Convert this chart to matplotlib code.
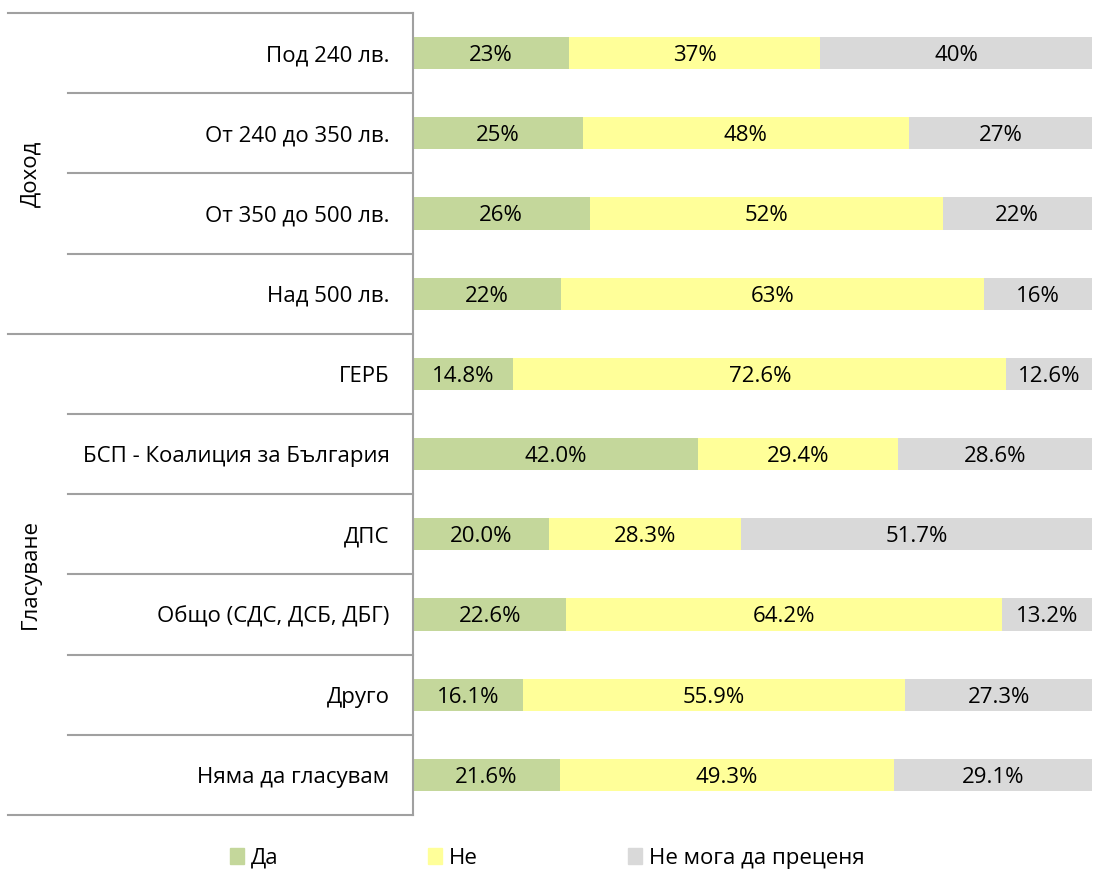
import numpy as np
import matplotlib.pyplot as plt
from matplotlib.patches import Patch

plt.rcParams['font.family'] = ['Open Sans', 'DejaVu Sans']

categories = ["Под 240 лв.", "От 240 до 350 лв.", "От 350 до 500 лв.", "Над 500 лв.",
              "ГЕРБ", "БСП - Коалиция за България", "ДПС", "Общо (СДС, ДСБ, ДБГ)",
              "Друго", "Няма да гласувам"]
da = [23, 25, 26, 22, 14.8, 42.0, 20.0, 22.6, 16.1, 21.6]
ne = [37, 48, 52, 63, 72.6, 29.4, 28.3, 64.2, 55.9, 49.3]
ne_moga = [40, 27, 22, 16, 12.6, 28.6, 51.7, 13.2, 27.3, 29.1]
labels_da = ["23%", "25%", "26%", "22%", "14.8%", "42.0%", "20.0%", "22.6%", "16.1%", "21.6%"]
labels_ne = ["37%", "48%", "52%", "63%", "72.6%", "29.4%", "28.3%", "64.2%", "55.9%", "49.3%"]
labels_nm = ["40%", "27%", "22%", "16%", "12.6%", "28.6%", "51.7%", "13.2%", "27.3%", "29.1%"]
series_names = ["Да", "Не", "Не мога да преценя"]
groups = ["Доход", "Гласуване"]
group_sizes = [4, 6]

colors = ["#C4D79B", "#FFFF99", "#D9D9D9"]
fs = 16

fig = plt.figure(figsize=(10.94, 8.72), dpi=100)
ax = fig.add_axes([413/1094, 1-815/872, 679/1094, (815-13)/872])

n = len(categories)
y = np.arange(n)
vals = np.array([da, ne, ne_moga], dtype=float)
vals = vals / vals.sum(axis=0)
labs = [labels_da, labels_ne, labels_nm]
left = np.zeros(n)
for i in range(3):
    ax.barh(y, vals[i], left=left, height=0.4, color=colors[i], label=series_names[i])
    for j in range(n):
        ax.text(left[j] + vals[i][j]/2, y[j], labs[i][j], ha='center', va='center_baseline', fontsize=fs)
    left = left + vals[i]

ax.set_xlim(0, 1)
ax.set_ylim(n - 0.5, -0.5)
ax.set_yticks(y)
ax.set_yticklabels(categories, fontsize=fs, va='center_baseline')
ax.tick_params(axis='y', length=0, pad=17)
ax.set_xticks([])
for s in ['top', 'right', 'bottom']:
    ax.spines[s].set_visible(False)
ax.spines['left'].set_color('#A0A0A0')
ax.spines['left'].set_linewidth(1.5)

# separator lines
tr = ax.get_yaxis_transform()
line_col = '#A0A0A0'
bounds = np.cumsum([0] + group_sizes)
for k in range(n + 1):
    yy = k - 0.5
    x0 = -0.596 if k in bounds else -0.508
    ax.plot([x0, 0], [yy, yy], transform=tr, color=line_col, lw=1.5, clip_on=False)

# group labels
for g, name in enumerate(groups):
    mid = (bounds[g] + bounds[g+1] - 1) / 2
    ax.text(-0.563, mid, name, transform=tr, rotation=90, ha='center', va='center', fontsize=fs)

# legend entries placed one by one, like the original
leg_x = [230, 428, 628]
for c, name, lx in zip(colors, series_names, leg_x):
    lg = fig.legend([Patch(color=c)], [name], loc='center left',
                    bbox_to_anchor=(lx/1094, 1-858/872), frameon=False, fontsize=fs,
                    handlelength=0.65, handleheight=0.75, handletextpad=0.3,
                    borderpad=0, borderaxespad=0)

fig.savefig('out.png', dpi=100)
